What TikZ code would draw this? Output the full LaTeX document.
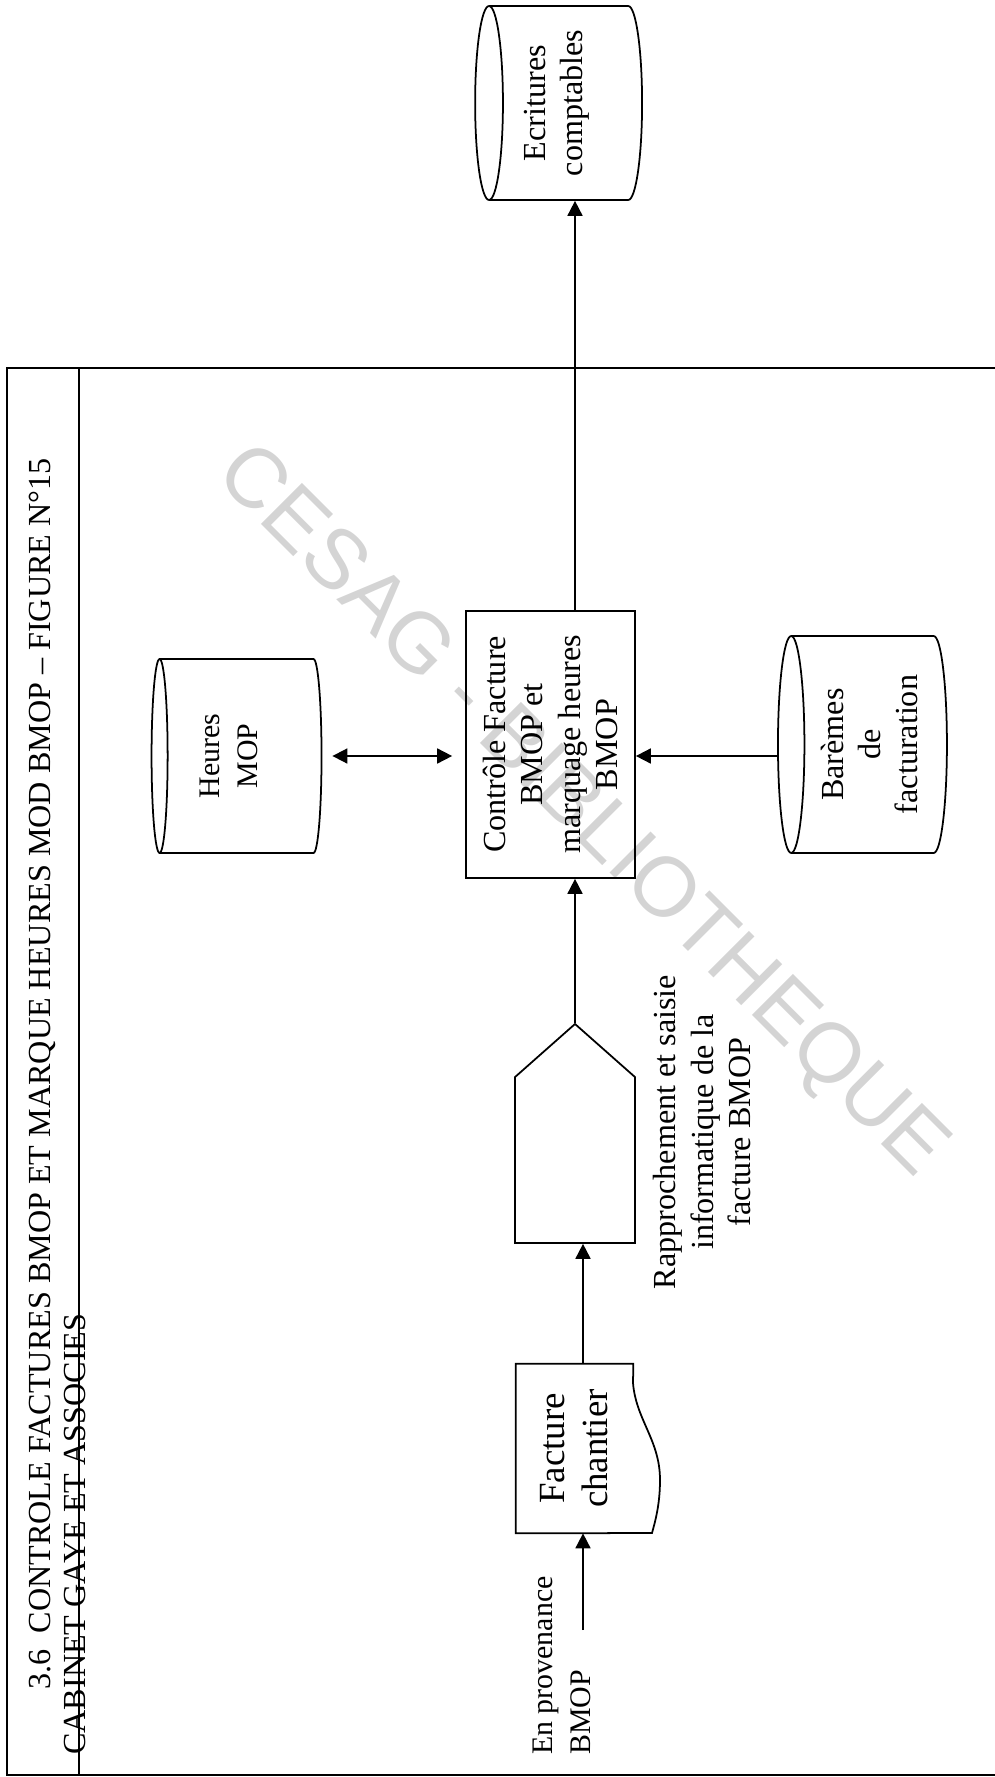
\documentclass[tikz,border=0pt]{standalone}
\usepackage{fontspec}
\setmainfont{Liberation Serif}
\newfontfamily\markfont{Liberation Sans}
\usetikzlibrary{arrows.meta,shapes.geometric,shapes.symbols}
\newcommand\lblfont{\fontsize{18.3}{21.3}\selectfont}
\tikzset{
  flowarrow/.style={-{Triangle[length=3mm, width=3mm]}, line width=1pt},
  twowayarrow/.style={{Triangle[length=3mm, width=3mm]}-{Triangle[length=3mm, width=3mm]}, line width=1pt},
  storenode/.style={draw, line width=1pt, cylinder, shape border rotate=90, aspect=0.19, rotate=90, align=center, inner sep=0pt, font=\lblfont},
  procnode/.style={draw, line width=1pt, rotate=90, align=center, font=\lblfont},
  entrynode/.style={draw, line width=1pt, signal, signal to=east, signal pointer angle=97, rotate=90},
  docnode/.style={rotate=90, align=center, font=\fontsize{21}{24.5}\selectfont},
  textnode/.style={rotate=90, inner sep=0pt, font=\lblfont},
  titlenode/.style={rotate=90, inner sep=0pt, anchor=base west, font=\fontsize{18.3}{20}\selectfont}
}

\begin{document}
\begin{tikzpicture}[x=0.02cm, y=-0.02cm]
  \useasboundingbox (0,0) rectangle (994,1777);
  \node[rotate=-45, text=black!17, font=\markfont\fontsize{48}{50}\selectfont] (mark) at (580,813) {CESAG - BIBLIOTHEQUE};
  \draw[line width=1pt] (7,368) rectangle (1000,1775);
  \draw[line width=1pt] (79,368) -- (79,1775);
  \node[titlenode] (title) at (50,1690) {3.6\enspace CONTROLE FACTURES BMOP ET MARQUE HEURES MOD BMOP -- FIGURE N°15};
  \node[titlenode] (cabinet) at (85,1755) {CABINET GAYE ET ASSOCIES};

  \node[storenode, minimum width=3.88cm, minimum height=3.34cm, text depth=0.5cm] (ecritures) at (566,103) {Ecritures\\comptables};
  \node[storenode, minimum width=3.88cm, minimum height=3.4cm, text depth=0.5cm, font=\fontsize{17}{21.6}\selectfont] (heures) at (241,756) {Heures\\MOP};
  \node[storenode, minimum width=4.34cm, minimum height=3.38cm] (bareme) at (869.5,744.5) {Barèmes\\de\\facturation};
  \node[procnode, minimum width=5.34cm, minimum height=3.38cm] (controle) at (550.5,744.5) {Contrôle Facture\\BMOP et\\marquage heures\\BMOP};
  \node[entrynode, minimum width=4.38cm, minimum height=2.4cm] (saisie) at (575,1160) {};
  \node[textnode, align=center] (rappro) at (702,1132) {Rapprochement et saisie\\informatique de la\\facture BMOP};
  \node[docnode, minimum width=3.38cm, minimum height=2.34cm] (facture) at (574.5,1448.5) {Facture\\chantier};
  \draw[line width=1pt] (facture.north east) -- (facture.south east) -- (633,1383)
    .. controls (636,1420) and (660,1440) .. (660,1480)
    .. controls (660,1505) and (655,1522) .. (652,1533) -- (facture.north west) -- cycle;
  \node[textnode, align=left, anchor=north west, font=\fontsize{17}{21.6}\selectfont] (provenance) at (533,1755) {En provenance\\BMOP};
  \coordinate (bmopin) at (583,1630);

  \draw[flowarrow] (bmopin) -- (bmopin |- facture.west);
  \draw[flowarrow] (bmopin |- facture.east) -- (bmopin |- saisie.west);
  \draw[flowarrow] (saisie.east) -- (saisie.east |- controle.west);
  \draw[flowarrow] (saisie.east |- controle.east) -- (saisie.east |- ecritures.west);
  \draw[twowayarrow, shorten <=2mm, shorten >=2.6mm] (heures.bottom) -- (heures.bottom -| controle.north);
  \draw[flowarrow] (heures.bottom -| bareme.top) -- (heures.bottom -| controle.south);
\end{tikzpicture}
\end{document}
